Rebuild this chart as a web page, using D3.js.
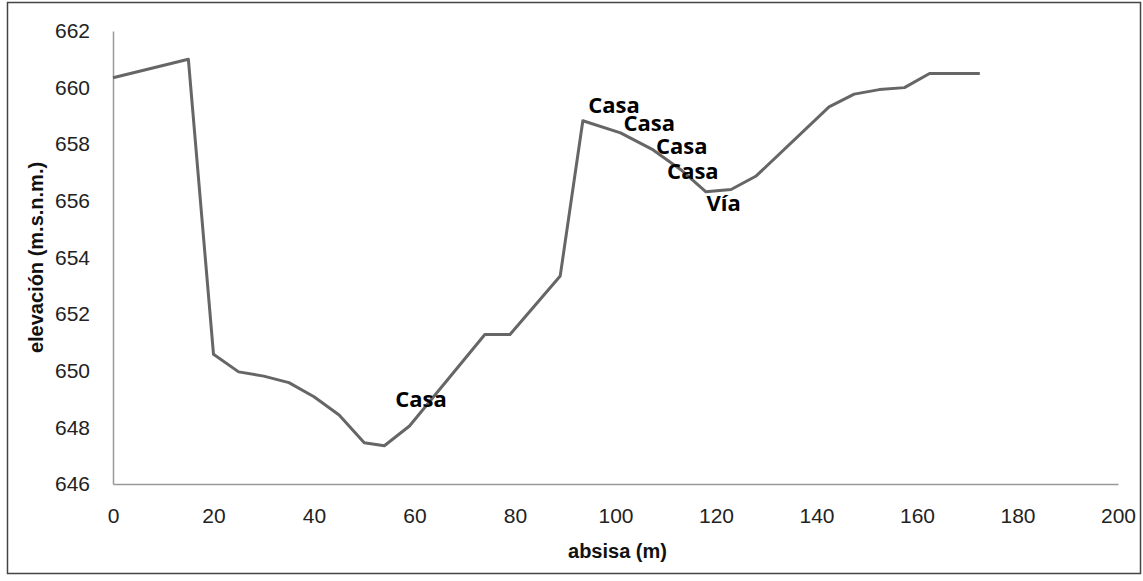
<!DOCTYPE html>
<html>
<head>
<meta charset="utf-8">
<script src="https://cdn.jsdelivr.net/npm/d3@7"></script>
<style>
  body { margin: 0; background: #fff; }
  .tick text { font-family: "Liberation Sans", Arial, sans-serif; font-size: 21px; fill: #222; }
  .axis-title { font-family: "Liberation Sans", Arial, sans-serif; font-weight: bold; font-size: 20px; fill: #111; }
  .point-label { font-family: "Open Sans", Lato, sans-serif; font-weight: bold; font-size: 22px; fill: #000; }
</style>
</head>
<body>
<div id="chart-area"></div>
<script>
// profile: abscissa (m) and elevation (m.s.n.m.)
var absisa = [0, 15, 20, 25, 30, 35, 40, 45, 50, 54, 59, 74, 79, 89, 93.5, 101, 107.5, 113, 118, 123, 128, 142.5, 147.5, 152.5, 157.5, 162.5, 172.5];
var elevacion = [660.35, 661.0, 650.58, 649.96, 649.81, 649.58, 649.08, 648.44, 647.46, 647.35, 648.05, 651.28, 651.28, 653.35, 658.83, 658.4, 657.8, 657.1, 656.32, 656.4, 656.88, 659.32, 659.77, 659.93, 660.0, 660.5, 660.5];

// annotations (label text, abscissa, elevation of baseline)
var labelText = ["Casa", "Casa", "Casa", "Casa", "Casa", "Vía"];
var labelX = [61.3, 99.7, 106.7, 113.2, 115.4, 121.5];
var labelY = [648.73, 659.1, 658.46, 657.67, 656.76, 655.65];

var xTicks = [0, 20, 40, 60, 80, 100, 120, 140, 160, 180, 200];
var yTicks = [646, 648, 650, 652, 654, 656, 658, 660, 662];

var W = 1143, H = 581;
var margin = { left: 113, right: 25, top: 31, bottom: 97 };
var w = W - margin.left - margin.right;
var h = H - margin.top - margin.bottom;

var svg = d3.select("#chart-area").append("svg")
    .attr("width", W)
    .attr("height", H);

// outer frame
svg.append("rect")
    .attr("x", 7.5).attr("y", 2.5)
    .attr("width", 1133).attr("height", 571)
    .attr("fill", "none")
    .attr("stroke", "#444")
    .attr("stroke-width", 1.5);

var g = svg.append("g")
    .attr("transform", "translate(" + margin.left + "," + margin.top + ")");

var x = d3.scaleLinear().domain([0, 200]).range([0, w]);
var y = d3.scaleLinear().domain([646, 662]).range([h, 0]);

var xAxis = d3.axisBottom(x).tickValues(xTicks).tickSize(0).tickPadding(24);
var yAxis = d3.axisLeft(y).tickValues(yTicks).tickSize(0).tickPadding(23);

g.append("g")
    .attr("class", "x axis")
    .attr("transform", "translate(0," + h + ")")
    .call(xAxis);

g.append("g")
    .attr("class", "y axis")
    .call(yAxis);

g.selectAll(".axis .domain")
    .attr("stroke", "#999")
    .attr("stroke-width", 1.5);

var data = absisa.map(function(d, i) { return { x: d, y: elevacion[i] }; });

var line = d3.line()
    .x(function(d) { return x(d.x); })
    .y(function(d) { return y(d.y); });

g.append("path")
    .datum(data)
    .attr("fill", "none")
    .attr("stroke", "#666")
    .attr("stroke-width", 3)
    .attr("stroke-linejoin", "round")
    .attr("d", line);

var labels = labelText.map(function(t, i) { return { t: t, x: labelX[i], y: labelY[i] }; });

g.selectAll(".point-label")
    .data(labels)
    .enter().append("text")
    .attr("class", "point-label")
    .attr("x", function(d) { return x(d.x); })
    .attr("y", function(d) { return y(d.y); })
    .attr("text-anchor", "middle")
    .text(function(d) { return d.t; });

g.append("text")
    .attr("class", "axis-title")
    .attr("x", w / 2 + 2)
    .attr("y", h + 74)
    .attr("text-anchor", "middle")
    .text("absisa (m)");

g.append("text")
    .attr("class", "axis-title")
    .attr("transform", "rotate(-90)")
    .attr("x", -h / 2)
    .attr("y", -70)
    .attr("text-anchor", "middle")
    .text("elevación (m.s.n.m.)");
</script>
</body>
</html>
